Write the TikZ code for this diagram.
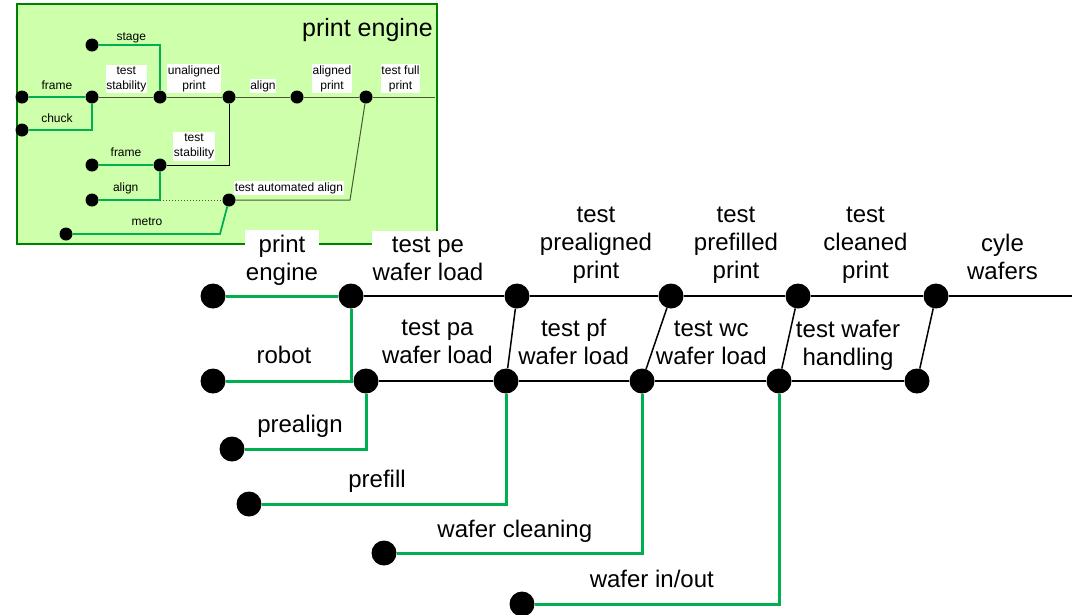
\documentclass[tikz,border=0pt]{standalone}
\usepackage{fontspec}
\setmainfont{Liberation Sans}
\definecolor{wire}{RGB}{0,176,80}
\definecolor{pefill}{RGB}{206,255,170}
\definecolor{peedge}{RGB}{0,128,0}
\definecolor{pepath}{RGB}{70,90,50}
\tikzset{
  dot/.style={circle,fill=black,inner sep=0pt,minimum size=25pt},
  smalldot/.style={circle,fill=black,inner sep=0pt,minimum size=13pt},
  lbl/.style={align=center,font=\fontsize{24}{28}\selectfont,inner xsep=1pt,inner ysep=3pt,anchor=base},
  cover/.style={fill=white,inner ysep=5pt},
  smalllbl/.style={align=center,font=\fontsize{12}{15.3}\selectfont,inner xsep=0.5pt,inner ysep=1.5pt,anchor=base},
  feed/.style={draw=wire,line width=3pt},
  flow/.style={draw=black,line width=1.5pt},
  smallfeed/.style={draw=wire,line width=1.8pt},
  smallflow/.style={draw=pepath,line width=1pt},
}
\begin{document}
\begin{tikzpicture}[x=1pt,y=-1pt]
\useasboundingbox (0,0) rectangle (1075,614);
% print engine inset
\draw[peedge,fill=pefill,line width=2pt] (17,4) rectangle (437,244);
\node[anchor=base,font=\fontsize{25}{30}\selectfont] (petitle) at (367.5,36) {print engine};
\node[smalldot] (frame) at (22,97) {};
\node[smalldot] (chuck) at (22,130) {};
\node[smalldot] (stage) at (92,45) {};
\node[smalldot] (tstab) at (92,97) {};
\node[smalldot] (unal) at (160,97) {};
\node[smalldot] (algn) at (229,97) {};
\node[smalldot] (alprint) at (297,97) {};
\node[smalldot] (tfull) at (366,97) {};
\node[smalldot] (frameb) at (92,165) {};
\node[smalldot] (tstabb) at (160,165) {};
\node[smalldot] (algnb) at (92,200) {};
\node[smalldot] (tauto) at (229,200) {};
\node[smalldot] (metro) at (66,234) {};
\coordinate (peend) at (435,97);
\coordinate (metrobend) at (220,234);
\coordinate (tautobend) at (350,200);
\draw[smallfeed] (frame) -- (tstab);
\draw[smallfeed] (chuck) -| (tstab);
\draw[smallfeed] (stage) -| (unal);
\draw[smallfeed] (frameb) -- (tstabb);
\draw[smallfeed] (algnb) -| (tstabb);
\draw[smallfeed] (metro) -- (metrobend) -- (tauto);
\draw[smallflow] (tstab) -- (unal) -- (algn) -- (alprint) -- (tfull) -- (peend);
\draw[black,line width=1pt] (tstabb) -| (algn);
\draw[smallflow,dotted] (algnb -| tstabb) -- (tauto);
\draw[smallflow] (tauto) -- (tautobend) -- (tfull);
\node[smalllbl] (lstage) at (131.3,40.7) {stage};
\node[smalllbl,fill=white] (ltstab) at (126.3,89.3) {test\\stability};
\node[smalllbl] (lframe) at (57,89.3) {frame};
\node[smalllbl] (lchuck) at (57,122.7) {chuck};
\node[smalllbl,fill=white] (lunal) at (194,89.3) {unaligned\\print};
\node[smalllbl,fill=white] (lalgn) at (263,89.3) {align};
\node[smalllbl,fill=white] (lalprint) at (332,89.3) {aligned\\print};
\node[smalllbl,fill=white] (ltfull) at (400.5,89.3) {test full\\print};
\node[smalllbl] (lframeb) at (126,156.7) {frame};
\node[smalllbl,fill=white] (ltstabb) at (194,156.7) {test\\stability};
\node[smalllbl] (lalgnb) at (125.7,191.7) {align};
\node[smalllbl] (lmetro) at (147,225) {metro};
\node[smalllbl,fill=white] (ltauto) at (289,191) {test automated align};
% main flow
\node[dot] (pengine) at (213,296) {};
\node[dot] (tpeload) at (351,296) {};
\node[dot] (tprealn) at (517,296) {};
\node[dot] (tprefil) at (671,296) {};
\node[dot] (tclean) at (798,296) {};
\node[dot] (cycle) at (936,296) {};
\coordinate (mainend) at (1072,296);
\node[dot] (robot) at (213,381) {};
\node[dot] (tpaload) at (366,381) {};
\node[dot] (tpfload) at (506,381) {};
\node[dot] (twcload) at (642,381) {};
\node[dot] (thandl) at (779,381) {};
\node[dot] (hend) at (917,381) {};
\node[dot] (prealign) at (232,449) {};
\node[dot] (prefill) at (249,504) {};
\node[dot] (wclean) at (384,553) {};
\node[dot] (wio) at (522,604) {};
\draw[feed] (pengine) -- (tpeload);
\draw[feed] (robot) -| (tpeload);
\draw[feed] (prealign) -| (tpaload);
\draw[feed] (prefill) -| (tpfload);
\draw[feed] (wclean) -| (twcload);
\draw[feed] (wio) -| (thandl);
\draw[flow] (tpeload) -- (tprealn) -- (tprefil) -- (tclean) -- (cycle) -- (mainend);
\draw[flow] (tpaload) -- (tpfload) -- (twcload) -- (thandl) -- (hend);
\draw[flow] (tpfload) -- (tprealn);
\draw[flow] (twcload) -- (tprefil);
\draw[flow] (thandl) -- (tclean);
\draw[flow] (hend) -- (cycle);
\node[lbl,cover] (lpengine) at (282,280) {print\\engine};
\node[lbl,cover] (ltpeload) at (428,280) {test pe\\wafer load};
\node[lbl] (ltprealn) at (596,278) {test\\prealigned\\print};
\node[lbl] (ltprefil) at (736,278) {test\\prefilled\\print};
\node[lbl] (ltclean) at (865.5,278) {test\\cleaned\\print};
\node[lbl] (lcycle) at (1002.5,279) {cyle\\wafers};
\node[lbl] (lrobot) at (284,363) {robot};
\node[lbl] (ltpaload) at (437.5,363) {test pa\\wafer load};
\node[lbl] (ltpfload) at (573.7,364) {test pf\\wafer load};
\node[lbl] (ltwcload) at (711.3,364) {test wc\\wafer load};
\node[lbl] (lthandl) at (848,365) {test wafer\\handling};
\node[lbl] (lprealign) at (300,432) {prealign};
\node[lbl] (lprefill) at (377,487) {prefill};
\node[lbl] (lwclean) at (514.8,537) {wafer cleaning};
\node[lbl] (lwio) at (651.8,587) {wafer in/out};
\end{tikzpicture}
\end{document}
